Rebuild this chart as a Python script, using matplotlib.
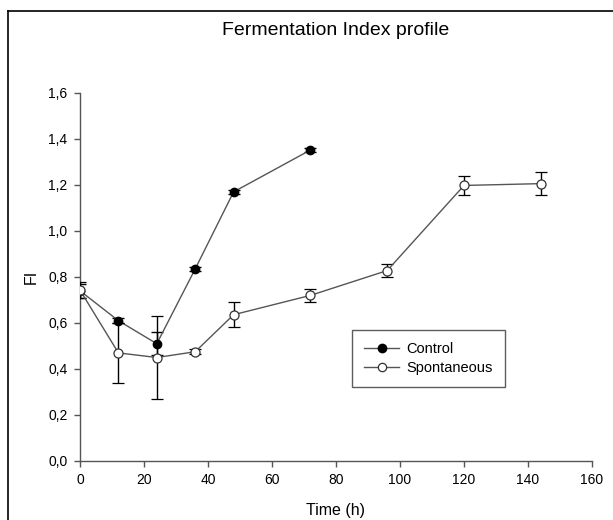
import numpy as np
import matplotlib
matplotlib.use("Agg")
from matplotlib import pyplot as plt
from matplotlib.lines import Line2D
from matplotlib.ticker import FuncFormatter

plt.rcParams['font.family'] = ['Liberation Sans', 'DejaVu Sans']

# data
control_t = [0, 12, 24, 36, 48, 72]
control_fi = [0.74, 0.61, 0.51, 0.835, 1.17, 1.352]
control_err = [0.03, 0.01, 0.05, 0.01, 0.01, 0.01]

spont_t = [0, 12, 24, 36, 48, 72, 96, 120, 144]
spont_fi = [0.743, 0.47, 0.45, 0.475, 0.636, 0.72, 0.828, 1.198, 1.206]
spont_err = [0.035, 0.13, 0.18, 0.01, 0.055, 0.03, 0.03, 0.04, 0.05]

fig = plt.figure(figsize=(6.13, 5.2), dpi=100)
ax = fig.add_axes([80 / 613, 59 / 520, 512 / 613, 368 / 520])

line_col = '#555555'
ax.errorbar(control_t, control_fi, yerr=control_err, color=line_col, lw=1,
            marker='o', ms=6, mfc='black', mec='black', ecolor='black',
            elinewidth=1, capsize=4.5, capthick=1, zorder=3)
ax.errorbar(spont_t, spont_fi, yerr=spont_err, color=line_col, lw=1,
            marker='o', ms=6.5, mfc='white', mec='#333333', mew=0.9, ecolor='black',
            elinewidth=1, capsize=4.5, capthick=1, zorder=4)

ax.set_xlim(0, 160)
ax.set_ylim(0, 1.6)
ax.set_xticks(np.arange(0, 161, 20))
ax.set_yticks(np.arange(0, 1.61, 0.2))
ax.yaxis.set_major_formatter(FuncFormatter(lambda v, p: f"{v:.1f}".replace('.', ',')))
ax.spines['top'].set_visible(False)
ax.spines['right'].set_visible(False)
for s in ('left', 'bottom'):
    ax.spines[s].set_color('#555555')
    ax.spines[s].set_linewidth(1)
ax.tick_params(direction='out', length=4, width=1, color='#555555', labelsize=10, pad=5)

ax.set_xlabel('Time (h)', fontsize=11.5, labelpad=11)
ax.set_ylabel('FI', fontsize=11.5, labelpad=7)
ax.set_title('Fermentation Index profile', fontsize=14, pad=42)

handles = [
    Line2D([], [], color=line_col, lw=1, marker='o', ms=6, mfc='black', mec='black'),
    Line2D([], [], color=line_col, lw=1, marker='o', ms=6, mfc='white', mec='#333333', mew=0.9),
]
leg = ax.legend(handles, ['Control', 'Spontaneous'], loc='upper left',
                bbox_to_anchor=(272 / 512, (461 - 330) / 368),
                fontsize=10.5, frameon=True, fancybox=False, borderpad=0.85,
                handlelength=2.4, handletextpad=0.5, labelspacing=0.3,
                borderaxespad=0)
leg.get_frame().set_edgecolor('#333333')
leg.get_frame().set_linewidth(1)

# page frame lines at top and left
fig.add_artist(Line2D([8 / 613, 1], [1 - 11 / 520, 1 - 11 / 520], color='black', lw=1.2))
fig.add_artist(Line2D([8 / 613, 8 / 613], [0, 1 - 11 / 520], color='black', lw=1.2))

fig.savefig('out.png', dpi=100)
